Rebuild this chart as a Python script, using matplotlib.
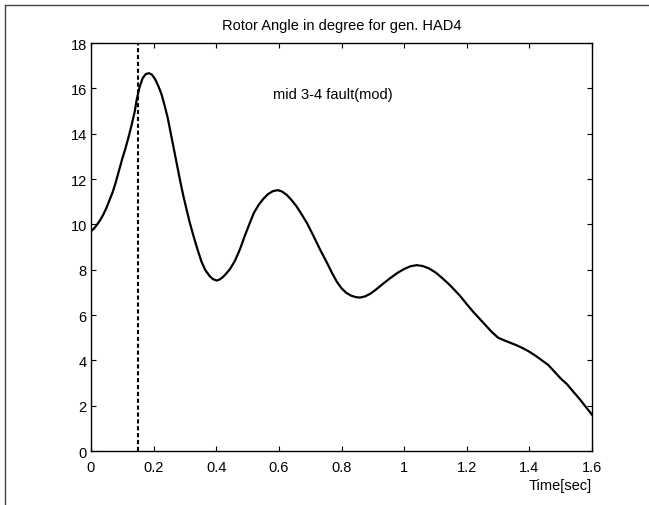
import matplotlib
matplotlib.use("Agg")
import matplotlib.pyplot as plt
from matplotlib.lines import Line2D

plt.rcParams.update({
    "font.family": ["Liberation Sans", "DejaVu Sans"],
    "font.size": 10.5,
})

# --- data ---
time_s = [0.0, 0.01, 0.02, 0.03, 0.04, 0.05, 0.06, 0.07, 0.08, 0.09,
          0.1, 0.11, 0.12, 0.13, 0.14, 0.146, 0.155, 0.165, 0.175, 0.185,
          0.195, 0.205, 0.215, 0.225, 0.235, 0.245, 0.255, 0.265, 0.275, 0.285,
          0.295, 0.305, 0.315, 0.327, 0.34, 0.353, 0.365, 0.38, 0.39, 0.401,
          0.41, 0.42, 0.43, 0.444, 0.46, 0.476, 0.49, 0.508, 0.52, 0.535,
          0.55, 0.565, 0.58, 0.596, 0.61, 0.625, 0.64, 0.655, 0.667, 0.69,
          0.71, 0.73, 0.753, 0.77, 0.785, 0.8, 0.815, 0.83, 0.845, 0.859,
          0.875, 0.891, 0.91, 0.93, 0.955, 0.98, 1.0, 1.02, 1.04, 1.06,
          1.08, 1.1, 1.12, 1.14, 1.16, 1.18, 1.2, 1.22, 1.24, 1.26,
          1.28, 1.3, 1.32, 1.34, 1.36, 1.38, 1.4, 1.42, 1.44, 1.46,
          1.48, 1.5, 1.52, 1.54, 1.56, 1.58, 1.6]
angle_deg = [9.7, 9.82, 10.0, 10.2, 10.45, 10.75, 11.1, 11.45, 11.9, 12.4,
             12.9, 13.35, 13.85, 14.4, 15.0, 15.5, 16.05, 16.45, 16.63, 16.67,
             16.6, 16.4, 16.1, 15.75, 15.25, 14.7, 14.0, 13.3, 12.6, 11.9,
             11.25, 10.67, 10.1, 9.5, 8.9, 8.35, 7.98, 7.7, 7.58, 7.52,
             7.56, 7.66, 7.8, 8.03, 8.4, 8.91, 9.45, 10.09, 10.5, 10.85,
             11.12, 11.33, 11.46, 11.51, 11.45, 11.3, 11.08, 10.82, 10.57, 10.05,
             9.5, 8.93, 8.32, 7.85, 7.47, 7.18, 6.98, 6.86, 6.79, 6.77,
             6.82, 6.93, 7.12, 7.35, 7.62, 7.87, 8.03, 8.15, 8.2, 8.16,
             8.05, 7.88, 7.65, 7.4, 7.12, 6.82, 6.48, 6.15, 5.85, 5.55,
             5.25, 5.0, 4.88, 4.77, 4.66, 4.53, 4.38, 4.2, 4.0, 3.8,
             3.5, 3.2, 2.95, 2.62, 2.3, 1.95, 1.6]
fault_time = 0.15
x_ticks = [0, 0.2, 0.4, 0.6, 0.8, 1, 1.2, 1.4, 1.6]
x_tick_labels = ["0", "0.2", "0.4", "0.6", "0.8", "1", "1.2", "1.4", "1.6"]
y_ticks = [0, 2, 4, 6, 8, 10, 12, 14, 16, 18]

fig = plt.figure(figsize=(6.49, 5.06), dpi=100)
ax = fig.add_axes([0.1402, 0.1067, 0.772, 0.8063])

ax.plot(time_s, angle_deg, color="black", lw=1.6, solid_joinstyle="round")
ax.plot([fault_time, fault_time], [0, 18], color="black", lw=1.5,
        dashes=(2, 1.3))

ax.set_xlim(0, 1.6)
ax.set_ylim(0, 18)
ax.set_xticks(x_ticks)
ax.set_xticklabels(x_tick_labels)
ax.set_yticks(y_ticks)
ax.tick_params(direction="in", length=3.6, width=0.8, top=True, right=True)
ax.tick_params(axis="x", pad=6.5)
ax.tick_params(axis="y", pad=3)
for sp in ax.spines.values():
    sp.set_linewidth(1.0)

ax.set_title("Rotor Angle in degree for gen. HAD4", pad=10, fontsize=10.5)
ax.set_xlabel("Time[sec]", loc="right", labelpad=3)
ax.text(0.58, 15.75, "mid 3-4 fault(mod)", va="center", ha="left")

# outer frame (top and left edge)
fig.add_artist(Line2D([0.0077, 1.0], [0.989, 0.989], transform=fig.transFigure,
                      color="#444444", lw=1.0))
fig.add_artist(Line2D([0.0077, 0.0077], [0.0, 0.989], transform=fig.transFigure,
                      color="#444444", lw=1.0))

fig.savefig("out.png", dpi=100)
